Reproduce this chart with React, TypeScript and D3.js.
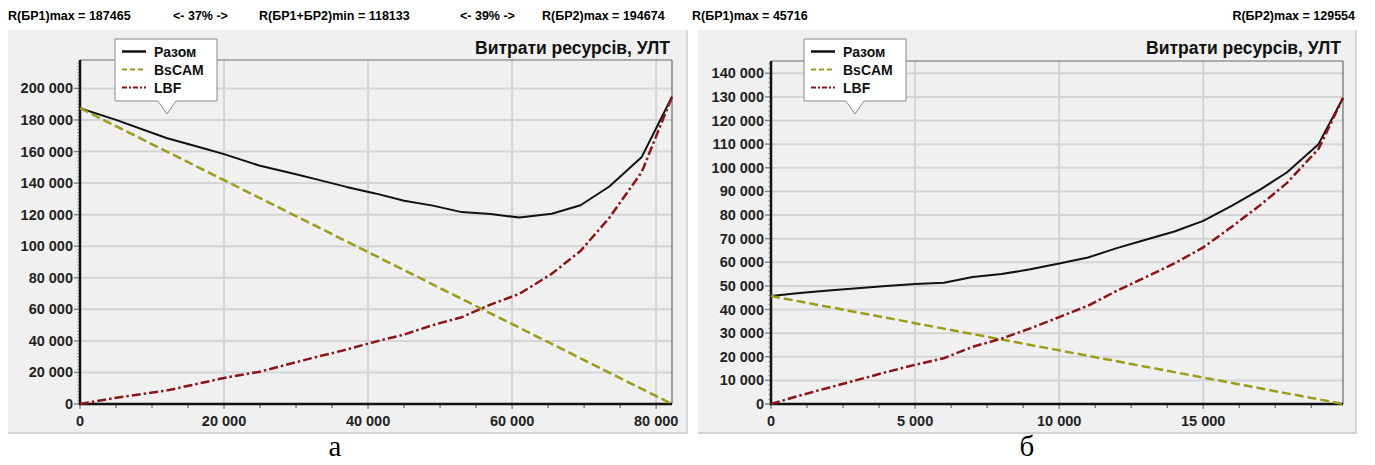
import * as d3 from 'd3';

// panel а
const xsA = [0, 5000, 12000, 17000, 20000, 25000, 30000, 33000, 37000, 41000, 45000, 49000, 53000, 57000, 61000, 65500, 69500, 73500, 78000, 82200];
const totalA = [187465, 180060, 168600, 162200, 158350, 150950, 145550, 142200, 137580, 133460, 128840, 125720, 121600, 120480, 118133, 120590, 125960, 137840, 156580, 194674];
const bscamA = [187465, 176060, 160100, 148700, 141850, 130450, 119050, 112200, 103080, 93960, 84840, 75720, 66600, 57480, 48350, 38090, 28960, 19840, 9580, 0];
const lbfA = [0, 4000, 8500, 13500, 16500, 20500, 26500, 30000, 34500, 39500, 44000, 50000, 55000, 63000, 69783, 82500, 97000, 118000, 147000, 194674];

// panel б
const xsB = [0, 1000, 2000, 3000, 4000, 5000, 6000, 7000, 8000, 9000, 10000, 11000, 12000, 13000, 14000, 15000, 16000, 17000, 17900, 19000, 19850];
const totalB = [45716, 47000, 48000, 49000, 50000, 50800, 51300, 53800, 55000, 57000, 59500, 62000, 66000, 69500, 73000, 77500, 84000, 91000, 98000, 110000, 129554];
const bscamB = [45716, 43400, 41100, 38800, 36500, 34200, 31900, 29600, 27300, 25000, 22700, 20400, 18100, 15800, 13500, 11200, 8900, 6600, 4500, 2000, 0];
const lbfB = [0, 3600, 6900, 10200, 13500, 16600, 19400, 24200, 27700, 32000, 36800, 41600, 47900, 53700, 59500, 66300, 75100, 84400, 93500, 108000, 129554];

const seriesNames = ['Разом', 'BsCAM', 'LBF'];
const chartTitle = 'Витрати ресурсів, УЛТ';
const headerA = ['R(БР1)max = 187465', '<- 37% ->', 'R(БР1+БР2)min = 118133', '<- 39% ->', 'R(БР2)max = 194674'];
const headerB = ['R(БР1)max = 45716', 'R(БР2)max = 129554'];

const FONT = '"Liberation Sans", Arial, sans-serif';
const styles = [
  { stroke: '#111', width: 2, dash: undefined, legendDash: undefined },
  { stroke: '#9b9b1e', width: 2.5, dash: '9,4', legendDash: '5,3' },
  { stroke: '#8a1616', width: 2.5, dash: '9,3,2.5,3', legendDash: '5,2,2,2' },
];

const fmt = d3.formatLocale({ decimal: '.', thousands: ' ', grouping: [3], currency: ['', ''] }).format(',d');

type PanelProps = {
  xs: number[];
  series: number[][];
  panel: [number, number, number, number];
  plot: [number, number, number, number];
  xMax: number;
  yMax: number;
  xStep: number;
  xMinor: number;
  yStep: number;
  yMinor: number;
  legendX: number;
  tipX: number;
};

const Panel = (p: PanelProps) => {
  const [px0, py0, px1, py1] = p.panel;
  const [l, t, r, b] = p.plot;
  const x = d3.scaleLinear().domain([0, p.xMax]).range([l, r]);
  const y = d3.scaleLinear().domain([0, p.yMax]).range([b, t]);
  const xMajor = d3.range(0, p.xMax + 1, p.xStep);
  const xMin = d3.range(0, p.xMax, p.xMinor).filter((v) => v % p.xStep !== 0);
  const yMajor = d3.range(0, p.yMax + 1, p.yStep);
  const yMin = d3.range(0, p.yMax, p.yMinor).filter((v) => v % p.yStep !== 0);
  const line = d3.line<number>().x((_, i) => x(p.xs[i])).y((d) => y(d));

  const lx = p.legendX, lt = 39, lb = 101, lw = 102;
  const bubble = `M${lx},${lt}H${lx + lw}V${lb}H${p.tipX + 9}L${p.tipX},${lb + 13}L${p.tipX - 9},${lb}H${lx}Z`;

  return (
    <g>
      <rect x={px0} y={py0} width={px1 - px0} height={py1 - py0} fill="#f0f0f0" />
      <line x1={px0} x2={px1} y1={py1 - 1} y2={py1 - 1} stroke="#d2d2d2" strokeWidth={2} />
      <line x1={px1 - 1} x2={px1 - 1} y1={py0} y2={py1} stroke="#d8d8d8" strokeWidth={2} />
      <text x={r - 2} y={54} textAnchor="end" fontFamily={FONT} fontSize={17.5} fontWeight="bold" fill="#111">
        {chartTitle}
      </text>
      {xMajor.filter((v) => v > 0).map((v) => (
        <line key={'gx' + v} x1={x(v)} x2={x(v)} y1={t} y2={b} stroke="#d4d4d4" strokeWidth={2} />
      ))}
      {yMajor.filter((v) => v > 0).map((v) => (
        <line key={'gy' + v} x1={l} x2={r} y1={y(v)} y2={y(v)} stroke="#d4d4d4" strokeWidth={2} />
      ))}
      <line x1={l} x2={r} y1={t} y2={t} stroke="#6a6a6a" strokeWidth={1.2} />
      <line x1={r} x2={r} y1={t} y2={b} stroke="#6a6a6a" strokeWidth={1.2} />
      {yMin.map((v) => (
        <line key={'my' + v} x1={l - 3} x2={l} y1={y(v)} y2={y(v)} stroke="#aaa" strokeWidth={1} />
      ))}
      {yMajor.map((v) => (
        <g key={'ty' + v}>
          <line x1={l - 6} x2={l} y1={y(v)} y2={y(v)} stroke="#888" strokeWidth={1.5} />
          <text x={l - 7} y={y(v) + 5} textAnchor="end" fontFamily={FONT} fontSize={14.5} fontWeight="bold" fill="#222">
            {fmt(v)}
          </text>
        </g>
      ))}
      {xMin.map((v) => (
        <line key={'mx' + v} x1={x(v)} x2={x(v)} y1={b} y2={b + 4} stroke="#888" strokeWidth={1.5} />
      ))}
      {xMajor.map((v) => (
        <g key={'tx' + v}>
          <line x1={x(v)} x2={x(v)} y1={b} y2={b + 5} stroke="#888" strokeWidth={1.5} />
          <text x={x(v)} y={b + 22} textAnchor="middle" fontFamily={FONT} fontSize={14.5} fontWeight="bold" fill="#222">
            {fmt(v)}
          </text>
        </g>
      ))}
      <line x1={l} x2={l} y1={t} y2={b + 1} stroke="#111" strokeWidth={2.5} />
      <line x1={l - 1} x2={r} y1={b} y2={b} stroke="#111" strokeWidth={2.5} />
      {p.series.map((s, i) => (
        <path
          key={'s' + i}
          d={line(s) || ''}
          fill="none"
          stroke={styles[i].stroke}
          strokeWidth={styles[i].width}
          strokeDasharray={styles[i].dash}
          strokeLinejoin="round"
        />
      ))}
      <path d={bubble} fill="#fff" stroke="#8a8a8a" strokeWidth={1} />
      {seriesNames.map((n, i) => (
        <g key={'lg' + i}>
          <line
            x1={lx + 7}
            x2={lx + 31}
            y1={51.5 + i * 18}
            y2={51.5 + i * 18}
            stroke={styles[i].stroke}
            strokeWidth={i === 0 ? 2.5 : 2}
            strokeDasharray={styles[i].legendDash}
          />
          <text x={lx + 39} y={56.5 + i * 18} fontFamily={FONT} fontSize={14} fontWeight="bold" fill="#111">
            {n}
          </text>
        </g>
      ))}
    </g>
  );
};

const App = () => {
  const hdr = { fontFamily: FONT, fontSize: 12.5, fontWeight: 'bold' as const, fill: '#000' };
  return (
    <svg width={1375} height={465} style={{ position: 'absolute', left: 0, top: 0, background: '#fff' }}>
      <text x={8} y={20} {...hdr}>{headerA[0]}</text>
      <text x={173} y={20} {...hdr}>{headerA[1]}</text>
      <text x={259} y={20} {...hdr}>{headerA[2]}</text>
      <text x={460} y={20} {...hdr}>{headerA[3]}</text>
      <text x={542} y={20} {...hdr}>{headerA[4]}</text>
      <text x={692} y={20} {...hdr}>{headerB[0]}</text>
      <text x={1355} y={20} textAnchor="end" {...hdr}>{headerB[1]}</text>

      <Panel
        xs={xsA}
        series={[totalA, bscamA, lbfA]}
        panel={[8, 30, 688, 434]}
        plot={[80, 60, 672, 404]}
        xMax={82200}
        yMax={218000}
        xStep={20000}
        xMinor={5000}
        yStep={20000}
        yMinor={2000}
        legendX={115}
        tipX={167}
      />
      <Panel
        xs={xsB}
        series={[totalB, bscamB, lbfB]}
        panel={[698, 30, 1357, 434]}
        plot={[771, 61, 1343, 404]}
        xMax={19850}
        yMax={145200}
        xStep={5000}
        xMinor={1250}
        yStep={10000}
        yMinor={2000}
        legendX={804}
        tipX={855}
      />

      <text x={335} y={456} textAnchor="middle" fontFamily='"Liberation Serif", "Times New Roman", serif' fontSize={29} fill="#000">
        а
      </text>
      <text x={1027} y={456} textAnchor="middle" fontFamily='"Liberation Serif", "Times New Roman", serif' fontSize={29} fill="#000">
        б
      </text>
    </svg>
  );
};

export default App;
